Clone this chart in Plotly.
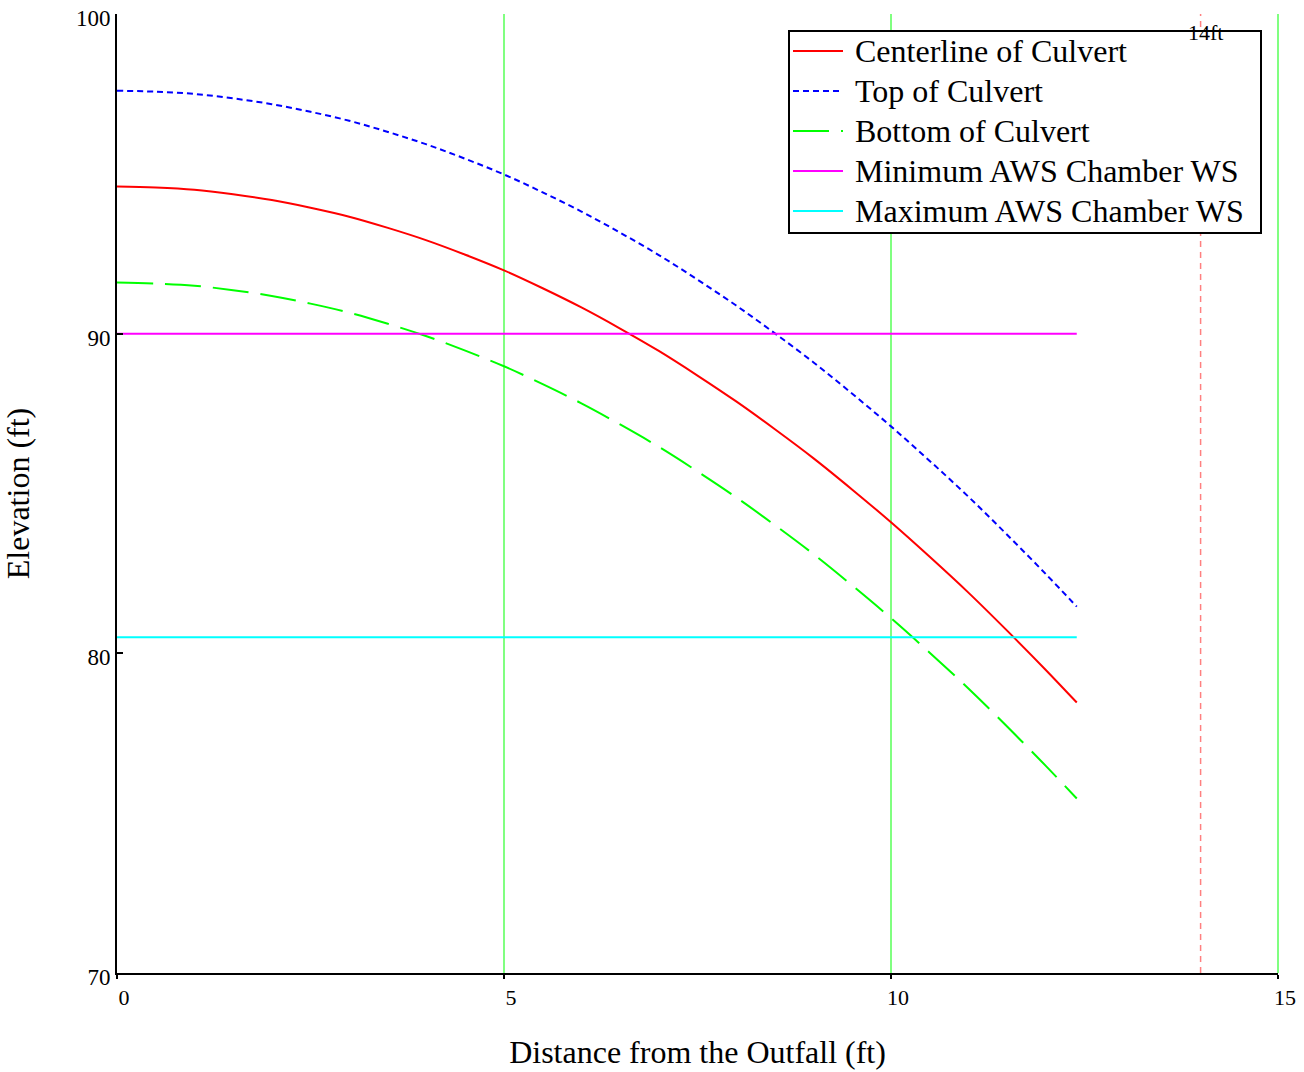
import plotly.graph_objects as go

# Distance from the outfall (ft)
distance = [0, 0.5, 1, 1.5, 2, 2.5, 3, 3.5, 4, 4.5, 5, 5.5, 6, 6.5, 7, 7.5,
            8, 8.5, 9, 9.5, 10, 10.5, 11, 11.5, 12, 12.4]

# Culvert elevations (ft)
centerline = [94.60, 94.57, 94.50, 94.36, 94.18, 93.94, 93.66, 93.31, 92.92, 92.47,
              91.98, 91.42, 90.82, 90.16, 89.46, 88.69, 87.88, 87.01, 86.10, 85.12,
              84.10, 83.02, 81.90, 80.71, 79.48, 78.46]
top_culvert = [97.60, 97.57, 97.50, 97.36, 97.18, 96.94, 96.66, 96.31, 95.92, 95.47,
               94.98, 94.42, 93.82, 93.16, 92.46, 91.69, 90.88, 90.01, 89.10, 88.12,
               87.10, 86.02, 84.90, 83.71, 82.48, 81.46]
bottom_culvert = [91.60, 91.57, 91.50, 91.36, 91.18, 90.94, 90.66, 90.31, 89.92, 89.47,
                  88.98, 88.42, 87.82, 87.16, 86.46, 85.69, 84.88, 84.01, 83.10, 82.12,
                  81.10, 80.02, 78.90, 77.71, 76.48, 75.46]

# AWS chamber water surfaces (ft)
ws_x = [0, 12.4]
min_ws = [90.0, 90.0]
max_ws = [80.5, 80.5]

# Reference station
station_x = 14
station_label = "14ft"

x_ticks = [0, 5, 10, 15]
y_ticks = [70, 80, 90, 100]
x_range = [0, 15]
y_range = [70, 100]

FONT = "Liberation Serif, Times New Roman, serif"
GRID = "#80FF80"

W, H = 1304, 1072
M = dict(l=117, r=26, t=14, b=99)
PW = W - M["l"] - M["r"]
PH = H - M["t"] - M["b"]


def px_x(px):
    return (px - M["l"]) / PW


def px_y(py):
    return 1 - (py - M["t"]) / PH


series = [
    ("Centerline of Culvert", distance, centerline, dict(color="#FF0000", width=2, shape="spline")),
    ("Top of Culvert", distance, top_culvert, dict(color="#0000FF", width=2, dash="6px,4px", shape="spline")),
    ("Bottom of Culvert", distance, bottom_culvert, dict(color="#00FF00", width=2, dash="36px,12px", shape="spline")),
    ("Minimum AWS Chamber WS", ws_x, min_ws, dict(color="#FF00FF", width=2)),
    ("Maximum AWS Chamber WS", ws_x, max_ws, dict(color="#00FFFF", width=2)),
]

fig = go.Figure()
for name, xs, ys, line in series:
    fig.add_trace(go.Scatter(x=xs, y=ys, mode="lines", name=name, line=line,
                             showlegend=False))

# Grid line at the right edge of the distance axis
fig.add_shape(type="line", xref="paper", yref="paper", x0=1, x1=1, y0=0, y1=1,
              line=dict(color=GRID, width=2), layer="below")

# Dashed marker line at the reference station
fig.add_shape(type="line", xref="x", yref="y", x0=station_x, x1=station_x,
              y0=y_range[0], y1=y_range[1],
              line=dict(color="#FF8080", width=1.5, dash="6px,5px"), layer="below")

# Boxed legend in the upper right
box_l, box_r, box_t, box_b = 789, 1261, 31, 233
row_y0, row_step = 51, 40
sample_l, sample_r, text_l = 793, 843, 853
fig.add_shape(type="rect", xref="paper", yref="paper",
              x0=px_x(box_l), x1=px_x(box_r), y0=px_y(box_b), y1=px_y(box_t),
              line=dict(color="black", width=2), fillcolor="white", layer="above")
for i, (name, _, _, line) in enumerate(series):
    ry = px_y(row_y0 + i * row_step)
    sample = dict(color=line["color"], width=line["width"], dash=line.get("dash", "solid"))
    fig.add_shape(type="line", xref="paper", yref="paper",
                  x0=px_x(sample_l), x1=px_x(sample_r), y0=ry, y1=ry,
                  line=sample, layer="above")
    fig.add_annotation(x=px_x(text_l), y=ry, xref="paper", yref="paper", text=name,
                       showarrow=False, xanchor="left", yanchor="middle",
                       font=dict(family=FONT, size=32, color="black"))

fig.add_annotation(x=station_x, y=y_range[1], xref="x", yref="y", text=station_label,
                   showarrow=False, xanchor="center", yanchor="top", yshift=-4, xshift=5,
                   font=dict(family=FONT, size=22, color="black"))

fig.update_layout(
    width=W, height=H,
    margin=M,
    paper_bgcolor="white", plot_bgcolor="white",
    font=dict(family=FONT, size=22, color="black"),
    showlegend=False,
    xaxis=dict(range=x_range, tickvals=x_ticks, ticks="outside", ticklen=4, tickwidth=2,
               tickcolor="black", showline=True, linecolor="black", linewidth=2,
               showgrid=True, gridcolor=GRID, gridwidth=1.5, zeroline=False,
               automargin=False, ticklabelshift=7, ticklabelstandoff=0,
               tickfont=dict(family=FONT, size=22),
               title=dict(text="Distance from the Outfall (ft)", standoff=31,
                          font=dict(family=FONT, size=32))),
    yaxis=dict(range=y_range, tickvals=y_ticks, ticks="inside", ticklen=6, tickwidth=2,
               tickcolor="black", showline=True, linecolor="black", linewidth=2,
               showgrid=False, zeroline=False, automargin=False,
               ticklabelshift=4,
               tickfont=dict(family=FONT, size=23),
               title=dict(text="Elevation (ft)", standoff=42,
                          font=dict(family=FONT, size=32))),
)

fig.write_html("out.html")
